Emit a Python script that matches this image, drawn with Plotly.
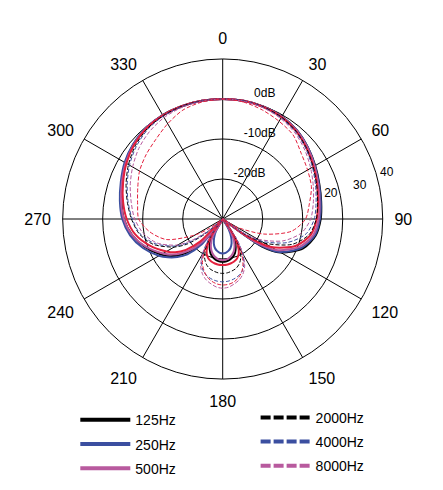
import plotly.graph_objects as go

# polar response in dB; finer steps around the rear lobe
angles = list(range(0, 121, 10)) + list(range(125, 236, 5)) + list(range(240, 361, 10))

hz125 = [0, 0, -0.1, -0.4, -1.1, -2.2, -3.3, -4.3, -5.0, -5.5, -6.4, -8.6, -13.3,
         -18, -30, -30, -30, -26.5, -24, -22.3, -21, -20.2, -19.7, -19.4, -19.3,
         -19.4, -19.7, -20.2, -21, -22.3, -24, -30, -24, -19, -16, -13.8,
         -12.2, -9.4, -7.0, -5.3, -4.3, -3.3, -1.9, -0.9, -0.3, 0, 0, 0, 0]
hz250 = [0, 0, -0.1, -0.4, -1.1, -2.2, -3.4, -4.4, -5.1, -5.7, -6.6, -9.0, -13.5,
         -19, -30, -30, -30, -30, -27, -25, -23.5, -22.5, -21.9, -21.5, -21.4,
         -21.5, -21.9, -22.5, -23.5, -25, -27, -30, -21.5, -17.5, -15.2, -13.3,
         -11.6, -8.8, -6.5, -4.9, -3.9, -2.9, -1.7, -0.8, -0.2, 0, 0, 0, 0]
hz500 = [0, 0, -0.2, -0.5, -1.2, -2.3, -3.5, -4.6, -5.4, -6.0, -7.0, -9.6, -14.5,
         -20, -30, -30, -30, -28, -25, -23, -21.7, -20.8, -20.2, -19.8, -19.7,
         -19.8, -20.2, -20.8, -21.7, -23, -25, -30, -24, -19.5, -16.8, -14.5,
         -12.8, -9.6, -7.0, -5.3, -4.2, -3.2, -2.0, -1.0, -0.3, -0.1, 0, 0, 0]
hz1000 = [0, 0, -0.2, -0.6, -1.4, -2.6, -3.8, -4.9, -5.8, -6.5, -7.6, -10.5, -16,
          -22, -30, -30, -30, -26, -22.5, -20.5, -19.5, -19, -18.7, -18.5, -18.5,
          -18.5, -18.7, -19, -19.5, -20.5, -22.5, -26, -30, -22, -18, -15.5,
          -13.8, -10.6, -7.8, -6.0, -4.7, -3.5, -2.2, -1.1, -0.4, -0.1, 0, 0, 0]
hz2000 = [0, 0, -0.2, -0.6, -1.4, -2.6, -3.9, -5.0, -5.9, -6.6, -8.0, -11.5, -18,
          -24, -30, -30, -30, -25, -21.5, -19.3, -18, -17.2, -16.8, -16.5, -16.4,
          -16.5, -16.8, -17.2, -18, -19.3, -21.5, -25, -30, -30, -24, -19,
          -16, -11.5, -8.8, -7.2, -5.8, -4.3, -2.8, -1.5, -0.6, -0.2, 0, 0, 0]
hz4000 = [0, 0, -0.3, -0.8, -1.6, -2.8, -4.1, -5.3, -6.3, -7.1, -8.8, -12.8, -19,
          -25, -30, -30, -30, -24, -20, -17.5, -16, -15.2, -14.7, -14.4, -14.3,
          -14.4, -14.7, -15.2, -16, -17.5, -20, -24, -30, -30, -25, -20,
          -16.5, -12, -9.0, -7.4, -6.0, -4.6, -3.1, -1.8, -0.8, -0.3, -0.1, 0, 0]
hz8000 = [0, -0.1, -0.4, -1.0, -1.9, -3.2, -4.6, -5.9, -7.0, -8.0, -10, -14, -20,
          -25, -30, -30, -30, -24, -20, -17, -15.3, -14.2, -13.5, -12.9, -12.7,
          -12.9, -13.5, -14.2, -15.3, -17, -20, -24, -30, -30, -26, -21,
          -17, -12.5, -9.8, -8.0, -6.8, -5.4, -4.0, -2.6, -1.5, -0.7, -0.3, -0.1, 0]
hz16000 = [0, -0.3, -1.0, -1.8, -2.6, -4.4, -5.5, -6.4, -8.0, -9.3, -12.5, -19, -26,
           -30, -30, -30, -30, -25, -21, -18, -16, -14.8, -14, -13.6, -13.5,
           -13.7, -14.2, -15, -16.3, -18, -21, -25, -30, -30, -30, -26,
           -22, -15, -11.5, -9.0, -8.4, -7.4, -6.0, -5.0, -4.0, -2.5, -1.0, -0.3, 0]

ring_text = ["0dB", "-10dB", "-20dB"]
ring_r = [3.0, -6.75, -17]
ring_theta = [18.6, 23.5, 31]

side_text = ["20", "30"]
side_r = [-2.25, 5.25]
side_theta = [77, 76.5]

BLACK = "#000000"
BLUE = "#3b4fa0"
PINK = "#b85a9e"
RED = "#e3203d"

curves = [
    ("125Hz", hz125, BLACK, "solid", 2, "legend"),
    ("250Hz", hz250, BLUE, "solid", 2, "legend"),
    ("500Hz", hz500, PINK, "solid", 2, "legend"),
    ("1000Hz", hz1000, RED, "solid", 2, None),
    ("2000Hz", hz2000, BLACK, "4px,2px", 1, "legend2"),
    ("4000Hz", hz4000, BLUE, "4px,2px", 1, "legend2"),
    ("8000Hz", hz8000, PINK, "4px,2px", 1, "legend2"),
    ("16000Hz", hz16000, RED, "4px,2px", 1, None),
]

fig = go.Figure()

for name, vals, col, dash, w, leg in curves:
    fig.add_trace(go.Scatterpolar(
        r=vals, theta=angles, mode="lines", name=name,
        line=dict(color=col, dash=dash, width=w, shape="spline", smoothing=0.8),
        showlegend=False, hoverinfo="skip",
    ))

# legend entries drawn with thicker lines, like the original
for name, vals, col, dash, w, leg in curves:
    if leg is None:
        continue
    fig.add_trace(go.Scatterpolar(
        r=[None], theta=[None], mode="lines", name=name,
        line=dict(color=col, dash="solid" if dash == "solid" else "10px,3px", width=4),
        legend=leg, legendgroup=name, showlegend=True,
    ))

fig.add_trace(go.Scatterpolar(
    r=ring_r, theta=ring_theta, mode="text", text=ring_text,
    textfont=dict(size=12, color="black"), showlegend=False, hoverinfo="skip",
    cliponaxis=False,
))
fig.add_trace(go.Scatterpolar(
    r=side_r, theta=side_theta, mode="text", text=side_text,
    textfont=dict(size=12, color="black"), showlegend=False, hoverinfo="skip",
    cliponaxis=False,
))

fig.add_annotation(text="40", x=0.894, y=0.649, xref="paper", yref="paper",
                   showarrow=False, font=dict(size=12, color="black"))

fig.update_layout(
    width=443, height=490,
    margin=dict(l=0, r=0, t=0, b=0),
    paper_bgcolor="white",
    font=dict(family="Arial, Liberation Sans, sans-serif", color="black"),
    polar=dict(
        domain=dict(x=[0.1415, 0.8639], y=[0.2265, 0.8796]),
        bgcolor="white",
        radialaxis=dict(
            range=[-30, 10], tickvals=[-20, -10, 0, 10],
            showticklabels=False, ticks="", showline=False,
            gridcolor="black", gridwidth=1,
        ),
        angularaxis=dict(
            rotation=90, direction="clockwise",
            tickvals=list(range(0, 360, 30)),
            ticktext=[str(a) for a in range(0, 360, 30)],
            tickfont=dict(size=16, color="black"),
            ticks="outside", ticklen=8, tickcolor="rgba(0,0,0,0)",
            gridcolor="black", gridwidth=1,
            linecolor="black", linewidth=1, showline=True,
        ),
    ),
    legend=dict(x=0.17, y=0.175, xanchor="left", yanchor="top",
                font=dict(size=14), tracegroupgap=3, itemwidth=50,
                bgcolor="rgba(0,0,0,0)"),
    legend2=dict(x=0.577, y=0.18, xanchor="left", yanchor="top",
                 font=dict(size=14), tracegroupgap=3, itemwidth=50,
                 bgcolor="rgba(0,0,0,0)"),
)

fig.write_html("out.html", config={"displayModeBar": False},
               post_script="document.body.style.margin='0';")
